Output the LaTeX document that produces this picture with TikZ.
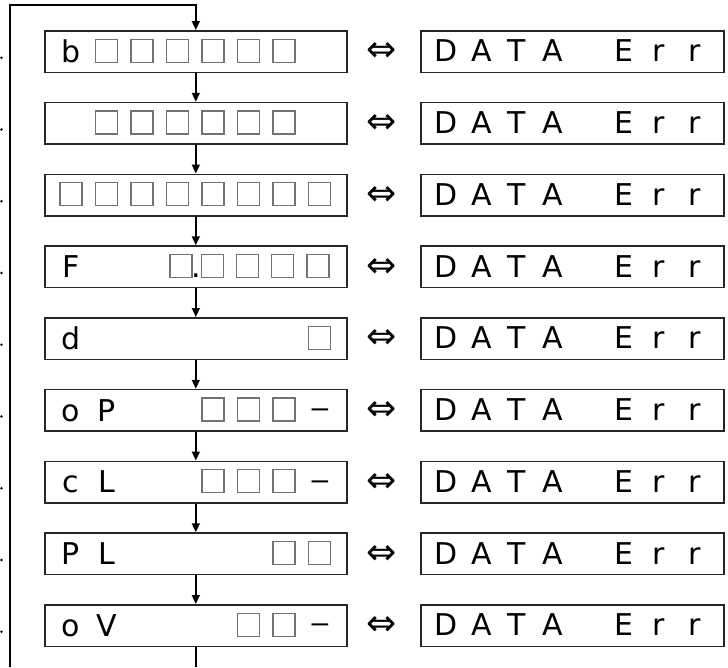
\documentclass[tikz,border=0pt]{standalone}
\usepackage{fontspec}
\setmainfont{DejaVu Sans}
\newfontfamily\dashfont{Liberation Sans}
\usetikzlibrary{arrows.meta}
\begin{document}
\begin{tikzpicture}[x=1pt,y=-1pt,
  lbox/.style={draw=black!85,line width=1.6pt,minimum width=302pt,minimum height=41.5pt,inner sep=0pt,anchor=north west},
  rbox/.style={draw=black!85,line width=1.6pt,minimum width=303pt,minimum height=41.5pt,inner sep=0pt,anchor=north west},
  sq/.style={draw=black!55,line width=1.2pt,minimum width=22pt,minimum height=23pt,inner sep=0pt},
  ch/.style={font=\fontsize{30}{30}\selectfont,inner sep=0pt,anchor=base},
  dsh/.style={font=\dashfont\fontsize{30}{30}\selectfont,inner sep=0pt,anchor=base},
  eqv/.style={font=\fontsize{36}{36}\selectfont,inner sep=0pt,anchor=base},
  conn/.style={line width=1.5pt,-{Triangle[length=9pt,width=8pt]}},
  plain/.style={line width=1.5pt}
]
\useasboundingbox (0,0) rectangle (728,667);
% boxes and equivalence signs
\foreach \i in {0,...,8}{
  \pgfmathsetmacro{\top}{30+71.75*\i}
  \pgfmathsetmacro{\cy}{\top+20.75}
  \node[lbox] (L\i) at (44,\top) {};
  \node[rbox] (R\i) at (420,\top) {};
  \node[eqv] (E\i) at (382,\cy+11) {⇔};
  \fill (1.5,\cy+7) circle (1.3pt);
  % right text DATA Err
  \foreach \k/\c in {0/D,1/A,2/T,3/A,5/E,6/r,7/r}{
    \node[ch] (R\i c\k) at (446+35.5*\k,\cy+11) {\c};
  }
}
% helper macro for row centres
\newcommand{\rowy}[1]{50.75+71.75*#1}
% row 0
\node[ch] (t0a) at (71,{\rowy{0}+11.5}) {b};
\foreach \k in {1,...,6}{\node[sq] (s0\k) at (71+35.5*\k,{\rowy{0}}) {};}
% row 1
\foreach \k in {1,...,6}{\node[sq] (s1\k) at (71+35.5*\k,{\rowy{1}}) {};}
% row 2
\foreach \k in {0,...,7}{\node[sq] (s2\k) at (71+35.5*\k,{\rowy{2}}) {};}
% row 3
\node[ch] (t3a) at (71,{\rowy{3}+11.5}) {F};
\foreach \x [count=\n] in {181,212.5,247.5,282.5,318}{\node[sq] (s3\n) at (\x,{\rowy{3}}) {};}
\node[ch] (t3d) at (196.5,{\rowy{3}+11.5}) {.};
% row 4
\node[ch] (t4a) at (71,{\rowy{4}+11.5}) {d};
\node[sq] (s47) at (71+35.5*7,{\rowy{4}}) {};
% row 5
\node[ch] (t5a) at (71,{\rowy{5}+11.5}) {o};
\node[ch] (t5b) at (106.5,{\rowy{5}+11.5}) {P};
\foreach \k in {4,5,6}{\node[sq] (s5\k) at (71+35.5*\k,{\rowy{5}}) {};}
\node[dsh] (t5c) at (320,{\rowy{5}+8}) {–};
% row 6
\node[ch] (t6a) at (71,{\rowy{6}+11.5}) {c};
\node[ch] (t6b) at (106.5,{\rowy{6}+11.5}) {L};
\foreach \k in {4,5,6}{\node[sq] (s6\k) at (71+35.5*\k,{\rowy{6}}) {};}
\node[dsh] (t6c) at (320,{\rowy{6}+8}) {–};
% row 7
\node[ch] (t7a) at (71,{\rowy{7}+11.5}) {P};
\node[ch] (t7b) at (106.5,{\rowy{7}+11.5}) {L};
\foreach \k in {6,7}{\node[sq] (s7\k) at (71+35.5*\k,{\rowy{7}}) {};}
% row 8
\node[ch] (t8a) at (71,{\rowy{8}+11.5}) {o};
\node[ch] (t8b) at (106.5,{\rowy{8}+11.5}) {V};
\foreach \k in {5,6}{\node[sq] (s8\k) at (71+35.5*\k,{\rowy{8}}) {};}
\node[dsh] (t8c) at (320,{\rowy{8}+8}) {–};
% connectors
\coordinate (lb) at (10,667);
\coordinate (lt) at (10,5);
\draw[conn] (lb) -- (lt) -| (L0.north);
\foreach \i [evaluate=\i as \j using int(\i+1)] in {0,...,7}{
  \draw[conn] (L\i.south) -- (L\j.north);
}
\draw[plain] (L8.south) -- (L8.south |- lb);
\end{tikzpicture}
\end{document}
